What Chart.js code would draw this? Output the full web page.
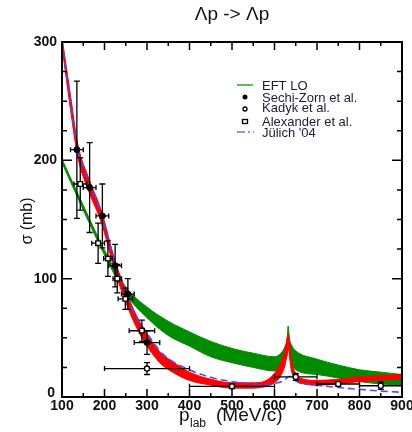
<!DOCTYPE html>
<html>
<head>
<meta charset="utf-8">
<script src="https://cdn.jsdelivr.net/npm/chart.js@4.4.1/dist/chart.umd.min.js"></script>
<style>
  html, body { margin: 0; padding: 0; background: #fff; }
  #wrap { width: 412px; height: 432px; }
</style>
</head>
<body>
<div id="wrap"><canvas id="chart" width="412" height="432"></canvas></div>
<script>
// --- data ---
const eftX  = [100, 150, 200, 250, 300, 350, 400, 450, 500, 550, 600, 615, 625, 630, 632, 635, 640, 650, 700, 750, 800, 850, 900];
const eftUp = [201, 162, 124, 93, 76, 64, 55, 47, 41, 37, 34, 37, 43, 50, 60, 50, 44, 39, 32, 27, 23, 21, 19];
const eftLo = [198, 158, 120, 87, 67, 52, 43, 34, 29, 25, 22, 25, 30, 36, 45, 38, 30, 23, 19, 16, 13, 11, 10];

const nloX  = [100, 120, 137, 165, 192, 225, 250, 275, 300, 330, 360, 400, 450, 500, 550, 575, 600, 615, 625, 630, 633, 636, 640, 650, 670, 700, 750, 800, 850, 900];
const nloUp = [304, 255, 214, 183, 158, 115, 90, 69, 53, 38, 30, 21, 15, 12, 12, 13, 20, 29, 40, 50, 53, 45, 32, 20, 15, 14, 15, 17, 18, 19];
const nloLo = [296, 243, 203, 172, 148, 106, 80, 59, 43, 29, 21, 14, 10, 7.5, 7.5, 8.5, 12, 18, 27, 37, 40, 32, 22, 14, 11, 10, 11, 13, 14, 15];

const julX = [100, 137, 165, 192, 225, 250, 260, 300, 338, 400, 456, 495, 574, 600, 620, 636, 650, 700, 750, 800, 850, 900];
const julY = [300, 210, 180, 155, 113, 90, 78, 54, 36, 23, 16, 13.3, 10.5, 11.5, 13.5, 17.5, 13.5, 10, 8, 6.5, 5, 4];

// experimental points: x, y, y error, x error
const szX  = [135, 165, 195, 225, 255, 300];
const szY  = [209, 177, 153, 111, 87, 46];
const szEy = [58, 38, 27, 18, 13, 10];
const szEx = [15, 15, 15, 15, 15, 30];

const kdX  = [300, 500, 650, 750, 850];
const kdY  = [24, 9, 17, 11, 9.5];
const kdEy = [5, 2, 3, 2, 3];
const kdEx = [100, 100, 50, 50, 50];

const alX  = [143, 185, 208, 230, 249, 288];
const alY  = [180, 130, 117, 100, 83, 56];
const alEy = [22, 17, 15, 12, 9, 9];
const alEx = [15, 15, 10, 10, 17, 30];

const xTickLabels = [100, 200, 300, 400, 500, 600, 700, 800, 900];
const yTickLabels = [0, 100, 200, 300];

const pts = (xs, ys) => xs.map((x, i) => ({ x: x, y: ys[i] }));

const GREEN = 'rgb(0,140,0)';
const RED = 'rgb(255,0,0)';
const BLUE = 'rgba(70,70,255,0.95)';
const FONT = '"Liberation Sans", Arial, sans-serif';

// error bars for the three data sets
const errSets = [
  { xs: szX, ys: szY, ey: szEy, ex: szEx },
  { xs: kdX, ys: kdY, ey: kdEy, ex: kdEx },
  { xs: alX, ys: alY, ey: alEy, ex: alEx }
];

const errorBars = {
  id: 'errorBars',
  afterDatasetDraw(chart, args) {
    if (args.index !== 4) return; // right after the Jülich curve, before the markers
    const { ctx, scales: { x, y }, chartArea } = chart;
    ctx.save();
    ctx.beginPath();
    ctx.rect(chartArea.left, chartArea.top, chartArea.width, chartArea.height);
    ctx.clip();
    ctx.strokeStyle = '#000';
    ctx.lineWidth = 1.3;
    errSets.forEach(s => {
      s.xs.forEach((xv, i) => {
        const px = x.getPixelForValue(xv);
        const py = y.getPixelForValue(s.ys[i]);
        const y1 = y.getPixelForValue(s.ys[i] + s.ey[i]);
        const y2 = y.getPixelForValue(s.ys[i] - s.ey[i]);
        const x1 = x.getPixelForValue(xv - s.ex[i]);
        const x2 = x.getPixelForValue(xv + s.ex[i]);
        ctx.beginPath();
        ctx.moveTo(px, y1); ctx.lineTo(px, y2);
        ctx.moveTo(px - 3, y1); ctx.lineTo(px + 3, y1);
        ctx.moveTo(px - 3, y2); ctx.lineTo(px + 3, y2);
        ctx.moveTo(x1, py); ctx.lineTo(x2, py);
        ctx.moveTo(x1, py - 2.5); ctx.lineTo(x1, py + 2.5);
        ctx.moveTo(x2, py - 2.5); ctx.lineTo(x2, py + 2.5);
        ctx.stroke();
      });
    });
    ctx.restore();
  }
};

// frame, inward ticks, labels, legend, title
const frame = {
  id: 'frame',
  afterDraw(chart) {
    const { ctx, scales: { x, y }, chartArea: a } = chart;
    ctx.save();
    ctx.strokeStyle = '#000';
    ctx.lineWidth = 2;
    ctx.strokeRect(a.left, a.top, a.right - a.left, a.bottom - a.top);

    ctx.lineWidth = 1.5;
    ctx.beginPath();
    for (let v = 100; v <= 900; v += 50) {
      const px = x.getPixelForValue(v);
      const len = v % 100 === 0 ? 8 : 4;
      ctx.moveTo(px, a.bottom); ctx.lineTo(px, a.bottom - len);
      ctx.moveTo(px, a.top); ctx.lineTo(px, a.top + len);
    }
    for (let v = 0; v <= 300; v += 25) {
      const py = y.getPixelForValue(v);
      const len = v % 100 === 0 ? 10 : 5;
      ctx.moveTo(a.left, py); ctx.lineTo(a.left + len, py);
      ctx.moveTo(a.right, py); ctx.lineTo(a.right - len, py);
    }
    ctx.stroke();

    ctx.fillStyle = '#111';
    ctx.font = 'bold 14px ' + FONT;
    ctx.textAlign = 'center';
    ctx.textBaseline = 'middle';
    xTickLabels.forEach(v => ctx.fillText(String(v), x.getPixelForValue(v), 406));
    ctx.textAlign = 'right';
    yTickLabels.forEach(v => {
      const py = v === 0 ? y.getPixelForValue(v) - 4 : y.getPixelForValue(v);
      ctx.fillText(String(v), v === 0 ? 55 : 57, py);
    });

    // axis titles
    ctx.font = '19px ' + FONT;
    ctx.textAlign = 'left';
    ctx.textBaseline = 'alphabetic';
    ctx.fillText('p', 179, 421);
    ctx.font = '12px ' + FONT;
    ctx.fillText('lab', 190, 427);
    ctx.font = '19px ' + FONT;
    ctx.fillText('(MeV/c)', 216, 421);

    ctx.save();
    ctx.translate(32, 221);
    ctx.rotate(-Math.PI / 2);
    ctx.textAlign = 'center';
    ctx.font = '16px ' + FONT;
    ctx.fillText('σ (mb)', 0, 0);
    ctx.restore();

    // title
    ctx.font = '19px ' + FONT;
    ctx.textAlign = 'center';
    ctx.fillText('Λp -> Λp', 232, 20);

    // legend
    ctx.font = '13px ' + FONT;
    ctx.textAlign = 'left';
    ctx.textBaseline = 'middle';
    const lx = 262;
    ctx.strokeStyle = 'rgb(90,190,90)';
    ctx.lineWidth = 2;
    ctx.beginPath(); ctx.moveTo(237, 85); ctx.lineTo(253, 85); ctx.stroke();
    ctx.fillStyle = '#1a1a3a';
    ctx.fillText('EFT LO', lx, 86);

    ctx.fillStyle = '#000';
    ctx.beginPath(); ctx.arc(245, 97, 2.5, 0, Math.PI * 2); ctx.fill();
    ctx.fillStyle = '#1a1a3a';
    ctx.fillText('Sechi-Zorn et al.', lx, 98);

    ctx.strokeStyle = '#000';
    ctx.lineWidth = 1.3;
    ctx.beginPath(); ctx.arc(245, 109, 2, 0, Math.PI * 2); ctx.stroke();
    ctx.fillStyle = '#1a1a3a';
    ctx.fillText('Kadyk et al.', lx, 108);

    ctx.strokeRect(242.5, 119.5, 5, 4);
    ctx.fillText('Alexander et al.', lx, 122);

    ctx.strokeStyle = 'rgb(110,110,255)';
    ctx.lineWidth = 1.5;
    ctx.setLineDash([8, 3, 2, 3]);
    ctx.beginPath(); ctx.moveTo(237, 132); ctx.lineTo(254, 132); ctx.stroke();
    ctx.setLineDash([]);
    ctx.fillText('Jülich \'04', lx, 133);
    ctx.restore();
  }
};

new Chart(document.getElementById('chart').getContext('2d'), {
  type: 'line',
  data: {
    datasets: [
      { data: pts(eftX, eftUp), borderColor: GREEN, borderWidth: 1, pointRadius: 0, fill: false, order: 10 },
      { data: pts(eftX, eftLo), borderColor: GREEN, borderWidth: 1, pointRadius: 0, fill: '-1', backgroundColor: GREEN, order: 9 },
      { data: pts(nloX, nloUp), borderColor: RED, borderWidth: 1, pointRadius: 0, fill: false, order: 8 },
      { data: pts(nloX, nloLo), borderColor: RED, borderWidth: 1, pointRadius: 0, fill: '-1', backgroundColor: RED, order: 7 },
      { data: pts(julX, julY), borderColor: BLUE, borderWidth: 1.6, borderDash: [7, 4], pointRadius: 0, fill: false, order: 6 },
      { type: 'scatter', data: pts(szX, szY), pointStyle: 'circle', pointRadius: 3, backgroundColor: '#000', borderColor: '#000', borderWidth: 1, order: 1 },
      { type: 'scatter', data: pts(kdX, kdY), pointStyle: 'circle', pointRadius: 2.6, backgroundColor: '#fff', borderColor: '#000', borderWidth: 1.4, order: 1 },
      { type: 'scatter', data: pts(alX, alY), pointStyle: 'rect', pointRadius: 3.3, backgroundColor: '#fff', borderColor: '#000', borderWidth: 1.4, order: 1 }
    ]
  },
  options: {
    responsive: false,
    animation: false,
    events: [],
    layout: { padding: { left: 62, top: 42, right: 10, bottom: 35 } },
    elements: { line: { cubicInterpolationMode: 'monotone' } },
    scales: {
      x: { type: 'linear', min: 100, max: 900, display: false },
      y: { type: 'linear', min: 0, max: 300, display: false }
    },
    plugins: {
      legend: { display: false },
      tooltip: { enabled: false },
      title: { display: false }
    }
  },
  plugins: [errorBars, frame]
});
</script>
</body>
</html>
